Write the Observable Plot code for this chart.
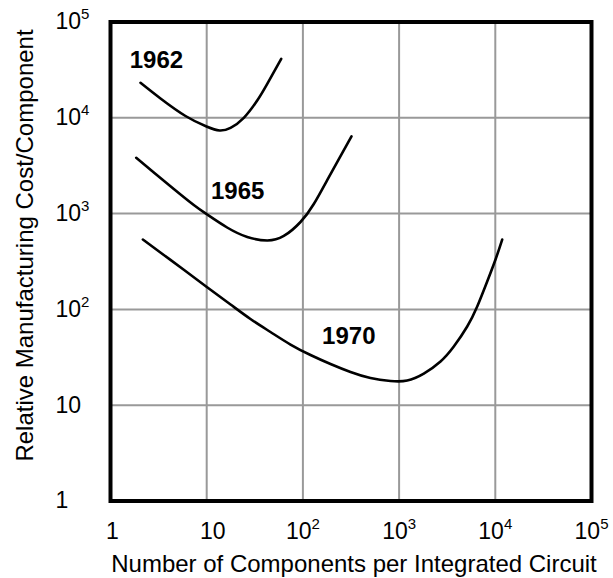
<!DOCTYPE html>
<html><head><meta charset="utf-8">
<script src="https://cdn.jsdelivr.net/npm/d3@7"></script>
<script src="https://cdn.jsdelivr.net/npm/@observablehq/plot@0.6"></script>
<style>body{margin:0;background:#fff} svg{display:block}</style>
</head><body><div id="chart"></div>
<script>
// ---- data ----
const tickValues = [1, 10, 100, 1000, 10000, 100000];
const tickBases = ["1", "10", "10", "10", "10", "10"];
const tickExponents = ["", "", "2", "3", "4", "5"];

const years = ["1962", "1965", "1970"];

const x1962 = [2.05, 3.31, 6.02, 9.95, 13.6, 17.7, 24.3, 33.5, 42.6, 59.5];
const y1962 = [23190, 15900, 10440, 8110, 7370, 7865, 10000, 15160, 22640, 41290];

const x1965 = [1.85, 2.82, 4.55, 7.34, 10.1, 16.3, 26.4, 42.6, 63.3, 94.4, 129.8, 178.9, 246, 320];
const y1965 = [3823, 2693, 1806, 1229, 979, 716, 570, 524, 584, 817, 1260, 2237, 3983, 6410];

const x1970 = [2.17, 3.58, 5.78, 10.1, 17.7, 28.5, 46.0, 74.3, 120, 193.6, 312.5, 504, 814, 1214, 1806, 2694, 3703, 5104, 6485, 8237, 10050, 11795];
const y1970 = [536, 370, 259, 170.5, 112.5, 79.4, 58.1, 43.0, 33.4, 26.9, 22.2, 19.2, 17.9, 18.1, 21.4, 28.6, 41.0, 66.3, 107.2, 195.5, 331.8, 536];

const labelX = [3, 21, 300];
const labelY = [40000, 1700, 53];

const xTitle = "Number of Components per Integrated Circuit";
const yTitle = "Relative Manufacturing Cost/Component";

// ---- build tables ----
const seriesX = [x1962, x1965, x1970];
const seriesY = [y1962, y1965, y1970];
const rows = [];
years.forEach((yr, k) => seriesX[k].forEach((x, i) => rows.push({year: yr, x, y: seriesY[k][i]})));
const labels = years.map((yr, k) => ({year: yr, x: labelX[k], y: labelY[k]}));

const supChar = {"0":"⁰","1":"¹","2":"²","3":"³","4":"⁴","5":"⁵","6":"⁶","7":"⁷","8":"⁸","9":"⁹"};
const fmtTick = d => {
  const i = tickValues.indexOf(d);
  if (i < 0) return "";
  return tickBases[i] + [...tickExponents[i]].map(c => supChar[c]).join("");
};

const font = "'Liberation Sans', Arial, Helvetica, sans-serif";

const chart = Plot.plot({
  width: 613,
  height: 578,
  marginLeft: 110,
  marginRight: 22,
  marginTop: 21.5,
  marginBottom: 77.5,
  style: {fontFamily: font, fontSize: "23px", color: "black", background: "white", overflow: "visible"},
  x: {type: "log", domain: [1, 1e5]},
  y: {type: "log", domain: [1, 1e5]},
  marks: [
    Plot.gridX({ticks: tickValues, stroke: "#999", strokeOpacity: 1, strokeWidth: 2}),
    Plot.gridY({ticks: tickValues, stroke: "#999", strokeOpacity: 1, strokeWidth: 2}),
    Plot.axisX({ticks: tickValues, tickFormat: fmtTick, tickSize: 0, tickPadding: 22, label: null, fontSize: 23}),
    Plot.axisY({ticks: tickValues, tickFormat: fmtTick, tickSize: 0, tickPadding: 55, textAnchor: "start", label: null, fontSize: 23}),
    Plot.line(rows, {x: "x", y: "y", z: "year", curve: "natural", stroke: "black", strokeWidth: 2.6}),
    Plot.text(labels, {x: "x", y: "y", text: "year", fontWeight: "bold", fontSize: 24, fill: "black"}),
    Plot.text([xTitle], {text: d => d, frameAnchor: "bottom", textAnchor: "middle", lineAnchor: "bottom", dy: 71.2, dx: 3, fontSize: 24, fill: "black"}),
    Plot.text([yTitle], {text: d => d, frameAnchor: "left", textAnchor: "middle", lineAnchor: "top", rotate: -90, dx: -95, dy: -16, fontSize: 24, fill: "black"}),
    Plot.frame({stroke: "black", strokeWidth: 4})
  ]
});

// superscript exponents in tick labels
const NS = "http://www.w3.org/2000/svg";
chart.querySelectorAll('g[aria-label$="tick label"] text').forEach(t => {
  const s = t.textContent;
  const i = tickValues.findIndex(v => fmtTick(v) === s);
  if (i < 0) return;
  const isX = t.closest('g[aria-label^="x-axis"]') != null;
  if (isX && tickValues[i] === 1) t.setAttribute("dx", 2);
  if (isX && tickValues[i] === 10) t.setAttribute("dx", 6);
  if (!tickExponents[i]) return;
  t.textContent = tickBases[i];
  const ts = document.createElementNS(NS, "tspan");
  ts.setAttribute("font-size", 15);
  ts.setAttribute("dy", -10);
  ts.textContent = tickExponents[i];
  t.appendChild(ts);
});

document.getElementById("chart").appendChild(chart);
</script>
</body></html>
